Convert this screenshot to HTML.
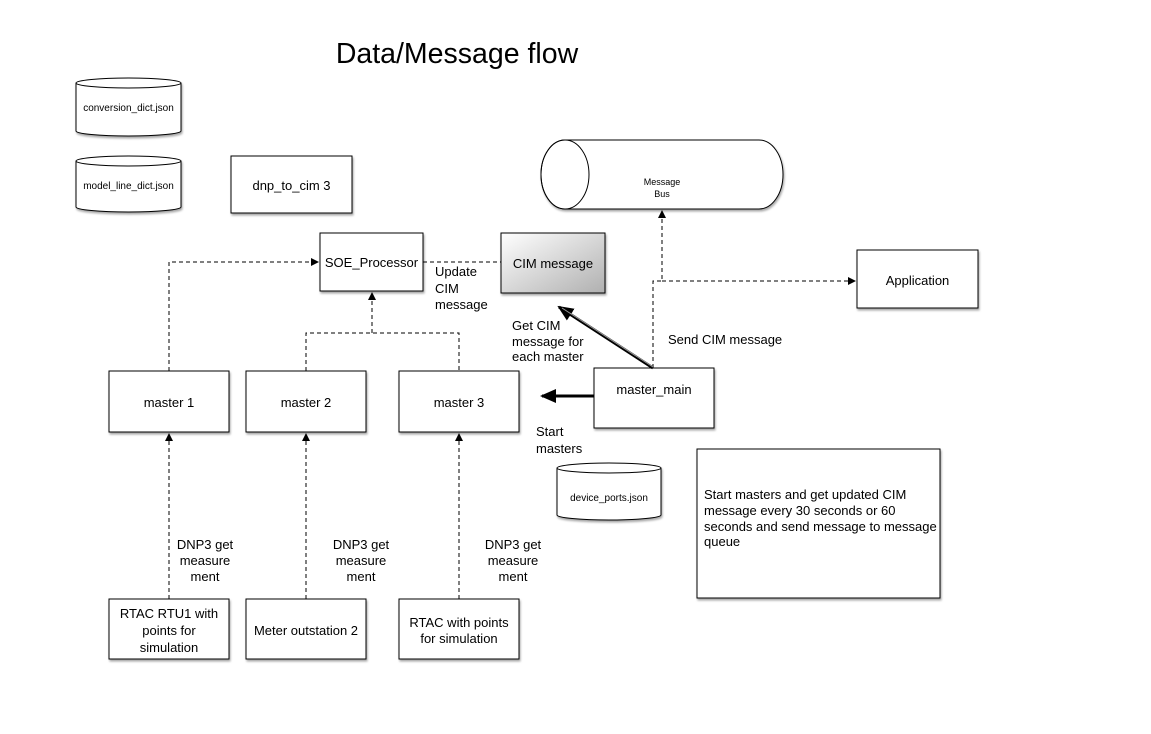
<!DOCTYPE html>
<html><head><meta charset="utf-8"><style>
html,body{margin:0;padding:0;background:#fff}
svg{display:block}
text{font-family:"Liberation Sans",Arial,sans-serif;fill:#000}
</style></head><body>
<svg width="1151" height="734" viewBox="0 0 1151 734" xmlns="http://www.w3.org/2000/svg">
<defs>
<linearGradient id="g" x1="0" y1="0" x2="1" y2="1">
<stop offset="0" stop-color="#ffffff"/><stop offset="1" stop-color="#b0b0b0"/>
</linearGradient>
<filter id="sh" x="-10%" y="-10%" width="130%" height="130%"><feDropShadow dx="1" dy="2" stdDeviation="1" flood-color="#000" flood-opacity="0.35"/></filter>
<marker id="a" markerWidth="8" markerHeight="8" refX="7" refY="4" orient="auto" markerUnits="userSpaceOnUse"><path d="M0,0 L8,4 L0,8 z" fill="#000"/></marker>
<marker id="b" markerWidth="16" markerHeight="14" refX="14" refY="7" orient="auto" markerUnits="userSpaceOnUse"><path d="M0,0 L16,7 L0,14 z" fill="#000"/></marker>
</defs>
<text x="457" y="63" font-size="28.5" text-anchor="middle">Data/Message flow</text>

<g fill="#fff" stroke="#000" stroke-width="1" filter="url(#sh)">
<path d="M76,83 A52.5,5 0 0 1 181,83 L181,131 A52.5,5 0 0 1 76,131 Z"/>
<path d="M76,161 A52.5,5 0 0 1 181,161 L181,207 A52.5,5 0 0 1 76,207 Z"/>
<path d="M557,468 A52,5 0 0 1 661,468 L661,515 A52,5 0 0 1 557,515 Z"/>
<path d="M565,140 L759,140 A24,34.5 0 0 1 759,209 L565,209 A24,34.5 0 0 1 565,140 Z"/>
<rect x="231" y="156" width="121" height="57"/>
<rect x="320" y="233" width="103" height="58"/>
<rect x="501" y="233" width="104" height="60" fill="url(#g)"/>
<rect x="857" y="250" width="121" height="58"/>
<rect x="109" y="371" width="120" height="61"/>
<rect x="246" y="371" width="120" height="61"/>
<rect x="399" y="371" width="120" height="61"/>
<rect x="594" y="368" width="120" height="60"/>
<rect x="697" y="449" width="243" height="149"/>
<rect x="109" y="599" width="120" height="60"/>
<rect x="246" y="599" width="120" height="60"/>
<rect x="399" y="599" width="120" height="60"/>
</g>
<g fill="none" stroke="#000">
<path d="M76,83 A52.5,5 0 0 0 181,83"/>
<path d="M76,161 A52.5,5 0 0 0 181,161"/>
<path d="M557,468 A52,5 0 0 0 661,468"/>
<ellipse cx="565" cy="174.5" rx="24" ry="34.5"/>
</g>

<g fill="none" stroke="#000" stroke-width="1" stroke-dasharray="4,3">
<path d="M169,371 L169,262 L318,262" marker-end="url(#a)"/>
<path d="M306,371 L306,333 L459,333 L459,371"/>
<path d="M372,333 L372,293" marker-end="url(#a)"/>
<path d="M423,262 L501,262"/>
<path d="M653,368 L653,281 L662,281 L662,211" marker-end="url(#a)"/>
<path d="M662,281 L855,281" marker-end="url(#a)"/>
<path d="M169,599 L169,434" marker-end="url(#a)"/>
<path d="M306,599 L306,434" marker-end="url(#a)"/>
<path d="M459,599 L459,434" marker-end="url(#a)"/>
</g>
<path d="M653,368 L559,307" stroke="#000" stroke-width="3" marker-end="url(#b)"/>
<path d="M653,367 L562,308" stroke="#999" stroke-width="1"/>
<path d="M594,396 L542,396" stroke="#000" stroke-width="3" marker-end="url(#b)"/>

<g font-size="10" text-anchor="middle">
<text x="128.5" y="111">conversion_dict.json</text>
<text x="128.5" y="189">model_line_dict.json</text>
<text x="609" y="501">device_ports.json</text>
<text x="662" y="185" font-size="9">Message</text>
<text x="662" y="197" font-size="9">Bus</text>
</g>
<g font-size="13" text-anchor="middle">
<text x="291.5" y="190">dnp_to_cim 3</text>
<text x="371.5" y="267">SOE_Processor</text>
<text x="553" y="268">CIM message</text>
<text x="917.5" y="285">Application</text>
<text x="169" y="407">master 1</text>
<text x="306" y="407">master 2</text>
<text x="459" y="407">master 3</text>
<text x="654" y="394">master_main</text>
<text x="169" y="618">RTAC RTU1 with</text>
<text x="169" y="635">points for</text>
<text x="169" y="652">simulation</text>
<text x="306" y="635">Meter outstation 2</text>
<text x="459" y="627">RTAC with points</text>
<text x="459" y="643">for simulation</text>
<text x="205" y="549">DNP3 get</text><text x="205" y="565">measure</text><text x="205" y="581">ment</text>
<text x="361" y="549">DNP3 get</text><text x="361" y="565">measure</text><text x="361" y="581">ment</text>
<text x="513" y="549">DNP3 get</text><text x="513" y="565">measure</text><text x="513" y="581">ment</text>
</g>
<g font-size="13">
<text x="435" y="276">Update</text><text x="435" y="293">CIM</text><text x="435" y="309">message</text>
<text x="512" y="330">Get CIM</text><text x="512" y="346">message for</text><text x="512" y="361">each master</text>
<text x="668" y="344">Send CIM message</text>
<text x="536" y="436">Start</text><text x="536" y="453">masters</text>
<text x="704" y="499">Start masters and get updated CIM</text>
<text x="704" y="515">message every 30 seconds or 60</text>
<text x="704" y="531">seconds and send message to message</text>
<text x="704" y="546">queue</text>
</g>
</svg>
</body></html>
